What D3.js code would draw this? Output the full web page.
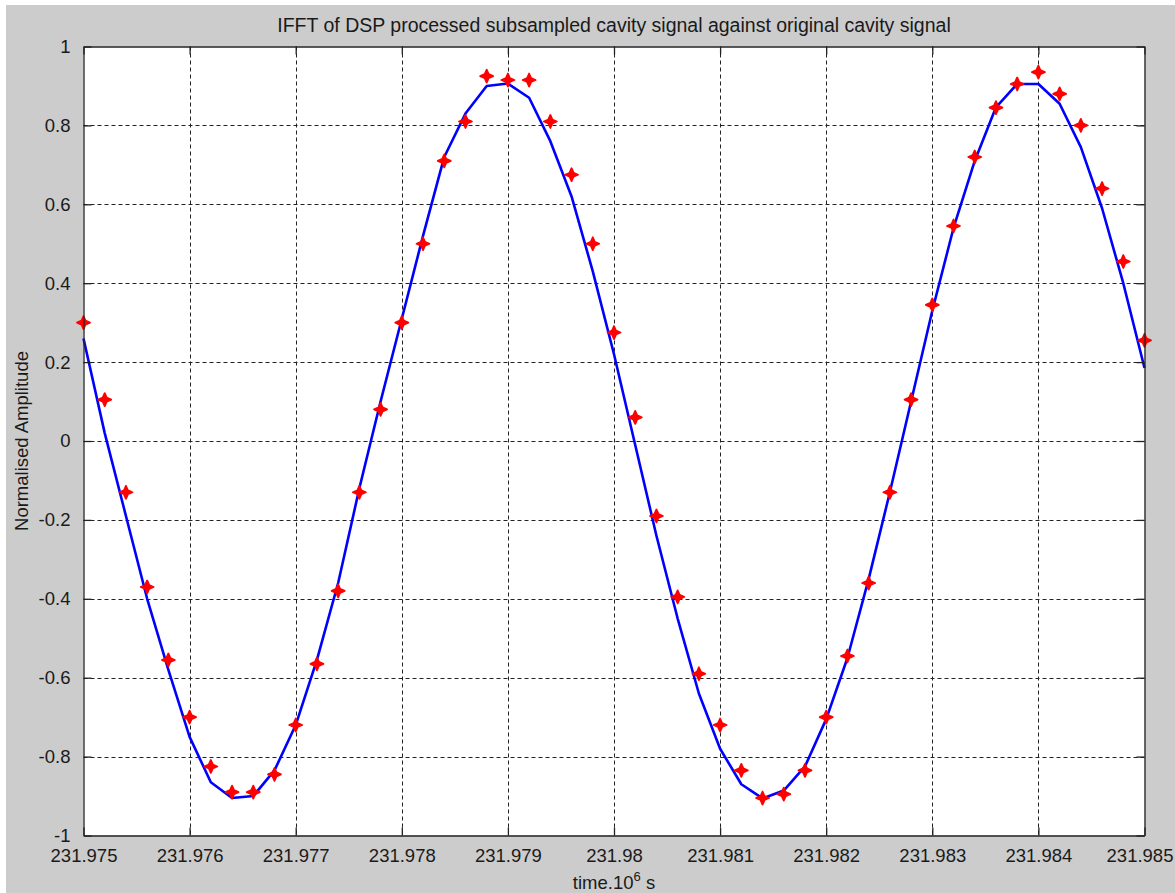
<!DOCTYPE html>
<html>
<head>
<meta charset="utf-8">
<script src="https://cdn.jsdelivr.net/npm/d3@7"></script>
<style>
  body { margin: 0; background: #fff; }
  text { font-family: "Liberation Sans", Arial, sans-serif; fill: #1a1a1a; }
</style>
</head>
<body>
<div id="wrapper"></div>
<script>
// sample times (x 10^6 s)
const times = [
  231.9750, 231.9752, 231.9754, 231.9756, 231.9758, 231.9760, 231.9762, 231.9764, 231.9766, 231.9768,
  231.9770, 231.9772, 231.9774, 231.9776, 231.9778, 231.9780, 231.9782, 231.9784, 231.9786, 231.9788,
  231.9790, 231.9792, 231.9794, 231.9796, 231.9798, 231.9800, 231.9802, 231.9804, 231.9806, 231.9808,
  231.9810, 231.9812, 231.9814, 231.9816, 231.9818, 231.9820, 231.9822, 231.9824, 231.9826, 231.9828,
  231.9830, 231.9832, 231.9834, 231.9836, 231.9838, 231.9840, 231.9842, 231.9844, 231.9846, 231.9848,
  231.9850
]
// IFFT of DSP processed subsampled signal (blue line)
const ifftSignal = [
  0.26, 0.02, -0.19, -0.40, -0.58, -0.75, -0.865, -0.905, -0.90, -0.835,
  -0.72, -0.555, -0.36, -0.12, 0.10, 0.31, 0.52, 0.72, 0.83, 0.90,
  0.906, 0.87, 0.76, 0.62, 0.43, 0.22, -0.01, -0.24, -0.45, -0.64,
  -0.78, -0.87, -0.906, -0.886, -0.825, -0.705, -0.55, -0.35, -0.13, 0.10,
  0.33, 0.54, 0.71, 0.846, 0.905, 0.905, 0.855, 0.745, 0.59, 0.40,
  0.185
]
// original cavity signal (red markers)
const cavitySignal = [
  0.30, 0.105, -0.13, -0.37, -0.555, -0.70, -0.825, -0.89, -0.89, -0.845,
  -0.72, -0.565, -0.38, -0.13, 0.08, 0.30, 0.50, 0.71, 0.81, 0.925,
  0.915, 0.915, 0.81, 0.675, 0.50, 0.275, 0.06, -0.19, -0.395, -0.59,
  -0.72, -0.835, -0.905, -0.895, -0.835, -0.70, -0.545, -0.36, -0.13, 0.105,
  0.345, 0.545, 0.72, 0.845, 0.905, 0.935, 0.88, 0.80, 0.64, 0.455,
  0.255
]
const xTicks = [231.975, 231.976, 231.977, 231.978, 231.979, 231.98, 231.981, 231.982, 231.983, 231.984, 231.985]
const yTicks = [-1, -0.8, -0.6, -0.4, -0.2, 0, 0.2, 0.4, 0.6, 0.8, 1]

const width = 1175
const height = 893
const plot = { left: 83.5, right: 1144.5, top: 46.5, bottom: 835.5 }

const svg = d3.select("#wrapper").append("svg")
    .attr("width", width)
    .attr("height", height)

// grey figure background (white strip top/left like the screenshot)
svg.append("rect")
    .attr("x", 6).attr("y", 5)
    .attr("width", width - 6).attr("height", height - 5)
    .attr("fill", "#cccccc")

svg.append("rect")
    .attr("x", plot.left).attr("y", plot.top)
    .attr("width", plot.right - plot.left).attr("height", plot.bottom - plot.top)
    .attr("fill", "#fff")

const xScale = d3.scaleLinear()
    .domain([231.975, 231.985])
    .range([plot.left, plot.right])
const yScale = d3.scaleLinear()
    .domain([-1, 1])
    .range([plot.bottom, plot.top])

// dashed grid
const grid = svg.append("g")
    .attr("stroke", "#222")
    .attr("stroke-width", 1)
    .attr("stroke-dasharray", "4,3")
grid.selectAll(".vgrid")
    .data(xTicks.slice(1, -1))
    .join("line")
    .attr("x1", d => Math.round(xScale(d)) + 0.5).attr("x2", d => Math.round(xScale(d)) + 0.5)
    .attr("y1", plot.top).attr("y2", plot.bottom)
grid.selectAll(".hgrid")
    .data(yTicks.slice(1, -1))
    .join("line")
    .attr("y1", d => Math.round(yScale(d)) + 0.5).attr("y2", d => Math.round(yScale(d)) + 0.5)
    .attr("x1", plot.left).attr("x2", plot.right)

// blue line
const line = d3.line()
    .x((d, i) => xScale(times[i]))
    .y(d => yScale(d))
svg.append("path")
    .datum(ifftSignal)
    .attr("fill", "none")
    .attr("stroke", "#0000ff")
    .attr("stroke-width", 2.6)
    .attr("stroke-linejoin", "round")
    .attr("d", line)

// red star markers
const star = "M0,-6.5L2,-2L6.5,0L2,2L0,6.5L-2,2L-6.5,0L-2,-2Z"
svg.append("g")
    .selectAll("path")
    .data(cavitySignal)
    .join("path")
    .attr("transform", (d, i) => `translate(${xScale(times[i])},${yScale(d)})`)
    .attr("d", star)
    .attr("fill", "#ff0000")
    .attr("stroke", "#ff0000")
    .attr("stroke-width", 1.8)
    .attr("stroke-linejoin", "round")

// axes with inward ticks (MATLAB box)
const fmtX = d => String(+d.toFixed(3))
const fmtY = d => String(+d.toFixed(1))
const styleAxis = g => {
    g.select(".domain").attr("stroke", "#222").attr("stroke-width", 1.3)
    g.selectAll(".tick line").attr("stroke", "#222").attr("stroke-width", 1.3)
    g.selectAll(".tick text")
        .style("font-family", '"Liberation Sans", Arial, sans-serif')
        .style("font-size", "18.5px")
        .attr("fill", "#1a1a1a")
}
const xAxis = svg.append("g")
    .attr("transform", `translate(0,${plot.bottom})`)
    .call(d3.axisBottom(xScale).tickValues(xTicks).tickFormat(fmtX).tickSize(-8).tickSizeOuter(0).tickPadding(13))
    .call(styleAxis)
// last label sits against the window edge, nudge it inside
xAxis.selectAll(".tick text").filter(d => d === 231.985).attr("dx", -5)

svg.append("g")
    .attr("transform", `translate(0,${plot.top})`)
    .call(d3.axisTop(xScale).tickValues(xTicks).tickFormat("").tickSize(-8).tickSizeOuter(0))
    .call(styleAxis)
svg.append("g")
    .attr("transform", `translate(${plot.left},0)`)
    .call(d3.axisLeft(yScale).tickValues(yTicks).tickFormat(fmtY).tickSize(-8).tickSizeOuter(0).tickPadding(13))
    .call(styleAxis)
svg.append("g")
    .attr("transform", `translate(${plot.right},0)`)
    .call(d3.axisRight(yScale).tickValues(yTicks).tickFormat("").tickSize(-8).tickSizeOuter(0))
    .call(styleAxis)

// title and labels
svg.append("text")
    .attr("x", (plot.left + plot.right) / 2)
    .attr("y", 32)
    .attr("text-anchor", "middle")
    .style("font-size", "19.5px")
    .text("IFFT of DSP processed subsampled cavity signal against original cavity signal")

const xLabel = svg.append("text")
    .attr("x", (plot.left + plot.right) / 2)
    .attr("y", 889)
    .attr("text-anchor", "middle")
    .style("font-size", "18.5px")
xLabel.append("tspan").text("time.10")
xLabel.append("tspan").attr("dy", -8).style("font-size", "13px").text("6")
xLabel.append("tspan").attr("dy", 8).text(" s")

svg.append("text")
    .attr("transform", `translate(28,${(plot.top + plot.bottom) / 2}) rotate(-90)`)
    .attr("text-anchor", "middle")
    .style("font-size", "18.5px")
    .text("Normalised Amplitude")
</script>
</body>
</html>
